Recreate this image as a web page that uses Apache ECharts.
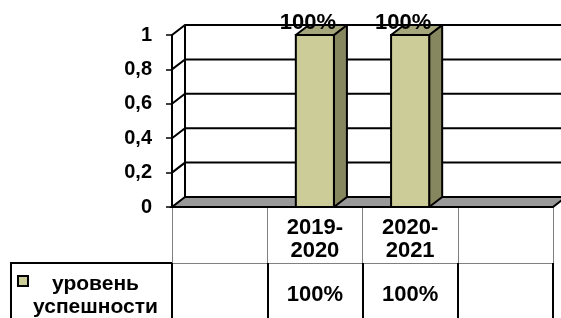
<!DOCTYPE html>
<html><head><meta charset="utf-8">
<script src="https://cdn.jsdelivr.net/npm/echarts@6/dist/echarts.min.js"></script>
<style>html,body{margin:0;padding:0;background:#fff}#c{width:561px;height:318px}</style>
</head><body><div id="c"></div>
<script>
// ---- data ----
const categories = ['', '2019-2020', '2020-2021', ' '];
const seriesName = 'уровень успешности';
const values = [null, 1, 1, null];
const yTicks = [0, 0.2, 0.4, 0.6, 0.8, 1];

// ---- styling ----
const FONT = '"Liberation Sans", Arial, sans-serif';
const DX = 13, DY = -10;
const pct = v => (v == null || isNaN(v) ? '' : Math.round(v * 100) + '%');

const chart = echarts.init(document.getElementById('c'), null, {renderer: 'canvas'});

function wallItem(params, api) {
  const cs = params.coordSys;
  const v = api.value(1);
  const y = api.coord([0, v])[1];
  const x0 = cs.x, x1 = cs.x + cs.width;
  const children = [];
  if (v === 0) {
    children.push({type: 'polygon', shape: {points: [[x0, y], [x1, y], [x1 + DX, y + DY], [x0 + DX, y + DY]]},
      style: {fill: '#999999', stroke: '#000', lineWidth: 2}});
  } else {
    children.push({type: 'polyline', shape: {points: [[x0, y], [x0 + DX, y + DY], [x1 + DX + 20, y + DY]]},
      style: {fill: null, stroke: '#000', lineWidth: 2}});
  }
  if (v === yTicks[yTicks.length - 1]) {
    const yb = api.coord([0, 0])[1];
    children.push({type: 'line', shape: {x1: x0 + DX, y1: y + DY, x2: x0 + DX, y2: yb + DY},
      style: {stroke: '#000', lineWidth: 2}});
  }
  return {type: 'group', children};
}

function barItem(params, api) {
  const v = api.value(1);
  if (v == null || isNaN(v)) return null;
  const idx = api.value(0);
  const top = api.coord([idx, v]);
  const bot = api.coord([idx, 0]);
  const band = api.size([1, 0])[0];
  const w = band * 0.4;
  const xl = top[0] - w / 2, xr = top[0] + w / 2;
  const yt = top[1], yb = bot[1];
  return {type: 'group', children: [
    {type: 'polygon', shape: {points: [[xr, yt], [xr + DX, yt + DY], [xr + DX, yb + DY], [xr, yb]]},
      style: {fill: '#86865f', stroke: '#000', lineWidth: 2, lineJoin: 'round'}},
    {type: 'polygon', shape: {points: [[xl, yt], [xl + DX, yt + DY], [xr + DX, yt + DY], [xr, yt]]},
      style: {fill: '#a6a67c', stroke: '#000', lineWidth: 2, lineJoin: 'round'}},
    {type: 'rect', shape: {x: xl, y: yt, width: w, height: yb - yt},
      style: {fill: '#cccc99', stroke: '#000', lineWidth: 2}},
    {type: 'text', x: top[0] - 7, y: yt - 12,
      style: {text: pct(v), font: 'bold 22px ' + FONT, fill: '#000', align: 'center', verticalAlign: 'middle'}}
  ]};
}

const option = {
  animation: false,
  backgroundColor: '#fff',
  grid: {left: 172, right: 8, top: 35, bottom: 111, containLabel: false},
  xAxis: [
    {type: 'category', data: categories, position: 'bottom',
      axisLine: {show: false},
      axisTick: {show: true, alignWithLabel: false, length: 56, lineStyle: {color: '#808080', width: 1}},
      axisLabel: {interval: 0, margin: 9, color: '#000', fontFamily: FONT, fontWeight: 'bold', fontSize: 22, lineHeight: 23,
        formatter: v => v.replace('-', '-\n')},
      splitLine: {show: false}},
    {type: 'category', data: categories, position: 'bottom', offset: 56,
      axisLine: {show: true, lineStyle: {color: '#808080', width: 1}},
      axisTick: {show: true, alignWithLabel: false, length: 56, lineStyle: {color: '#000', width: 2}},
      axisLabel: {interval: 0, margin: 20, color: '#000', fontFamily: FONT, fontWeight: 'bold', fontSize: 22, lineHeight: 23,
        formatter: (v, i) => pct(values[i])},
      splitLine: {show: false}}
  ],
  yAxis: {type: 'value', min: 0, max: 1, interval: 0.2,
    axisLine: {show: true, lineStyle: {color: '#000', width: 2}},
    axisTick: {show: true, length: 6, lineStyle: {color: '#000', width: 1.5}},
    splitLine: {show: false},
    axisLabel: {margin: 20, color: '#000', fontFamily: FONT, fontWeight: 'bold', fontSize: 20, padding: [5, 0, 0, 0],
      formatter: v => String(+v.toFixed(1)).replace('.', ',')}},
  legend: {left: 17, top: 253, padding: 0, itemWidth: 10, itemHeight: 10, selectedMode: false,
    data: [{name: seriesName, icon: 'rect', itemStyle: {color: '#cccc99', borderColor: '#000', borderWidth: 2}}],
    formatter: n => { const p = n.split(' '); return '{e| }\n{a|' + p[0] + '}\n{a|' + p[1] + '}'; },
    textStyle: {rich: {
      e: {lineHeight: 29, fontSize: 10, width: 125},
      a: {lineHeight: 23, fontSize: 21, fontWeight: 'bold', fontFamily: FONT, color: '#000', width: 125, align: 'center'}
    }}},
  graphic: [
    {type: 'polyline', shape: {points: [[11, 320], [11, 263], [172, 263]]}, style: {fill: null, stroke: '#000', lineWidth: 2}, silent: true}
  ],
  series: [
    {type: 'custom', name: 'wall', silent: true, clip: false, z: 1, renderItem: wallItem,
      data: yTicks.map(v => [0, v])},
    {type: 'custom', name: seriesName, clip: false, z: 2, renderItem: barItem,
      itemStyle: {color: '#cccc99', borderColor: '#000', borderWidth: 2},
      encode: {x: 0, y: 1},
      data: categories.map((c, i) => [i, values[i]])}
  ]
};
chart.setOption(option);
</script>
</body></html>
